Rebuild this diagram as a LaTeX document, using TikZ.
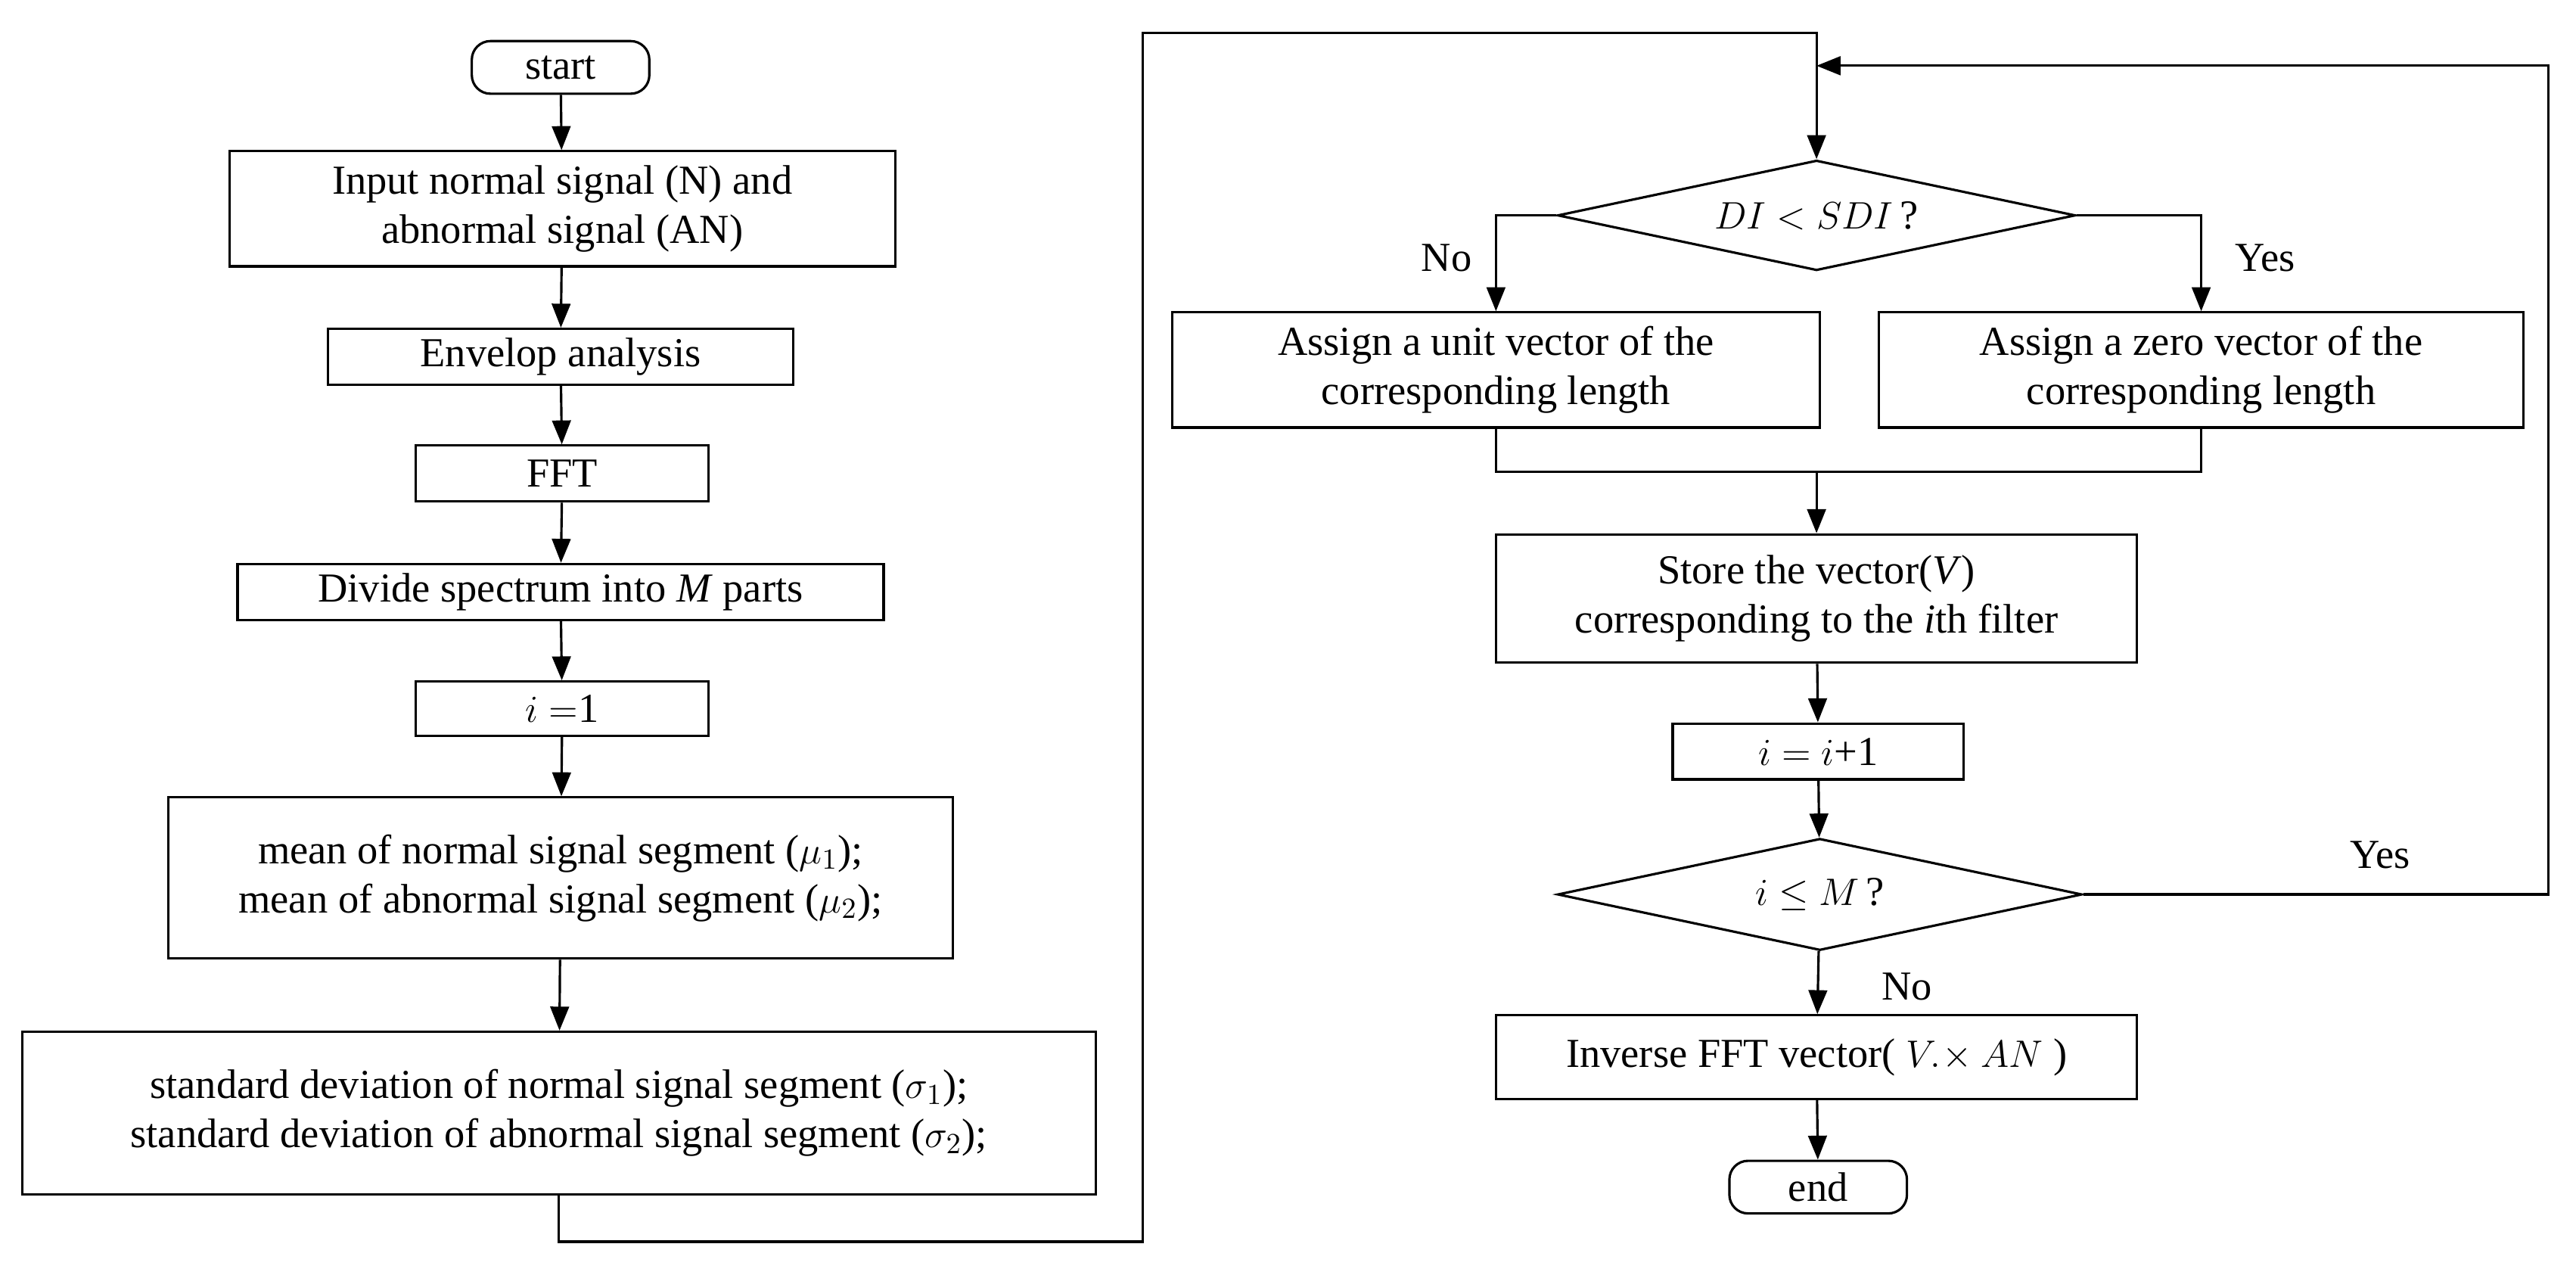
\documentclass[tikz,border=0pt]{standalone}
\usepackage{fontspec}
\setmainfont{Liberation Serif}
\usetikzlibrary{shapes.geometric,arrows.meta}
\begin{document}
\begin{tikzpicture}[x=0.02173cm,y=-0.02173cm,
  every node/.style={font=\fontsize{15.5}{18.5}\selectfont},
  box/.style={draw,line width=0.9pt,align=center,inner sep=0pt,minimum width=#1},
  term/.style={draw,line width=0.9pt,rounded corners=7pt,minimum width=108*0.02173cm,minimum height=32*0.02173cm,inner sep=0pt},
  dia/.style={draw,line width=0.9pt,diamond,aspect=4.7,inner sep=0pt},
  ln/.style={line width=0.9pt},
  ar/.style={line width=0.9pt,-{Triangle[length=9pt,width=7pt]}}]
\useasboundingbox (0,0) rectangle (1567,775);
\def\bx#1#2#3#4#5#6{\node[box, minimum width=#4*0.02173cm, minimum height=#5*0.02173cm] (#1) at (#2,#3) {#6};}
\node[term] (start) at (341,41) {start};
\bx{inp}{342}{127}{405}{70}{Input normal signal (N) and\\abnormal signal (AN)}
\bx{env}{341}{217}{283}{34}{Envelop analysis}
\bx{fft}{342}{288}{178}{34}{FFT}
\bx{div}{341}{360}{393}{34}{Divide spectrum into \textit{M} parts}
\bx{ione}{342}{431}{178}{33}{$i=$1}
\bx{mean}{341}{534}{477}{98}{mean of normal signal segment ($\mu_1$);\\mean of abnormal signal segment ($\mu_2$);}
\bx{std}{340}{677}{653}{99}{standard deviation of normal signal segment ($\sigma_1$);\\standard deviation of abnormal signal segment ($\sigma_2$);}
\node[dia,minimum width=315*0.02173cm,minimum height=67*0.02173cm] (d1) at (1105,131) {$DI<SDI$\,?};
\bx{unit}{910}{225}{394}{70}{Assign a unit vector of the\\corresponding length}
\bx{zero}{1339}{225}{392}{70}{Assign a zero vector of the\\corresponding length}
\bx{store}{1105}{364}{390}{78}{Store the vector(\textit{V})\\corresponding to the \textit{i}th filter}
\bx{inc}{1106}{457}{177}{34}{$i=i$+1}
\node[dia,minimum width=319*0.02173cm,minimum height=68*0.02173cm] (d2) at (1107,544) {$i\le M$\,?};
\bx{inv}{1105}{643}{390}{51}{Inverse FFT vector( $V.\!\times AN$ )}
\node[term] (end) at (1106,722) {end};
\draw[ar] (start) -- (inp);
\draw[ar] (inp) -- (env);
\draw[ar] (env) -- (fft);
\draw[ar] (fft) -- (div);
\draw[ar] (div) -- (ione);
\draw[ar] (ione) -- (mean);
\draw[ar] (mean) -- (std);
\coordinate (t1) at (1105,20);
\draw[ar] (std.south) -- ++(0,28) -| (695,20) -- (t1) -- (d1.north);
\draw[ar] (d1.west) -| (unit.north);
\draw[ar] (d1.east) -| (zero.north);
\node at (880,157) {No};
\node at (1378,157) {Yes};
\coordinate (m) at (1105,287);
\draw[ln] (unit.south) |- (m) -| (zero.south);
\draw[ar] (m) -- (store);
\draw[ar] (store) -- (inc);
\draw[ar] (inc) -- (d2);
\coordinate (r) at (1105,40);
\draw[ar] (d2.east) -- (1550,544) |- (r);
\node at (1448,520) {Yes};
\draw[ar] (d2) -- (inv);
\node at (1160,600) {No};
\draw[ar] (inv) -- (end);
\end{tikzpicture}
\end{document}
